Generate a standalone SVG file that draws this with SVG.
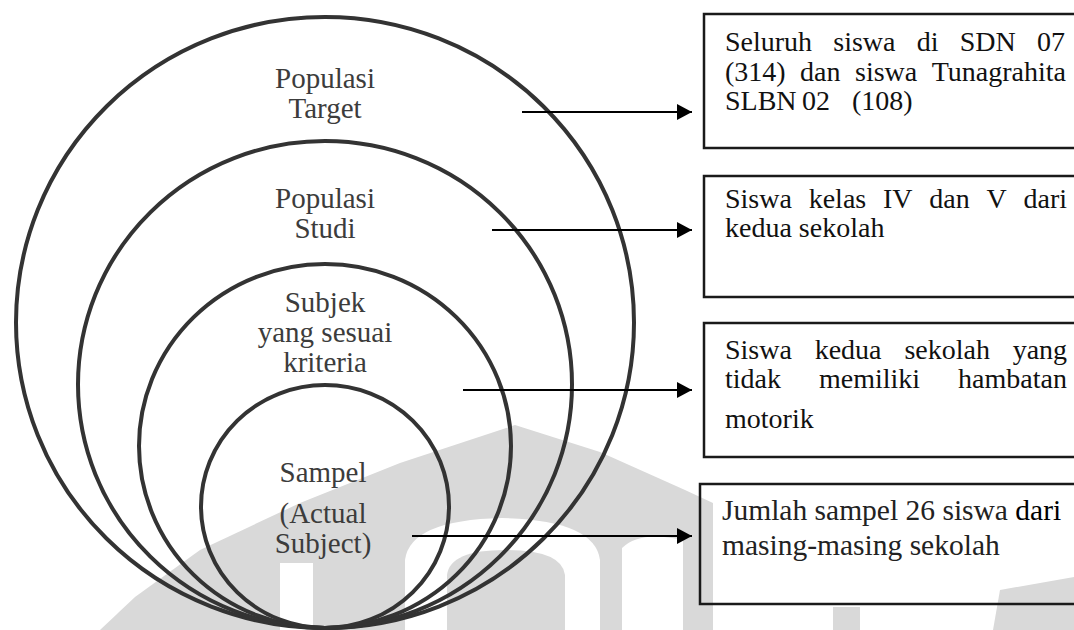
<svg xmlns="http://www.w3.org/2000/svg" width="1074" height="630" viewBox="0 0 1074 630">
<style>
.ring{fill:none;stroke:#333;stroke-width:4}
.lbl{font-family:"Liberation Serif","Times New Roman",serif;font-size:29px;fill:#3c3c3c;text-anchor:middle}
.box{fill:none;stroke:#1a1a1a;stroke-width:2.5}
.bt{font-family:"Liberation Serif","Times New Roman",serif;font-size:28px;fill:#111}
.bt4{font-family:"Liberation Serif","Times New Roman",serif;font-size:29.5px;fill:#222}
.arr{stroke:#000;stroke-width:2;fill:none}
.wm{fill:#d9d9d9;stroke:none}
.wmw{fill:#fff;stroke:none}
</style>
<defs>
<marker id="ah" viewBox="0 0 15 16" refX="15" refY="8" markerWidth="15" markerHeight="16" markerUnits="userSpaceOnUse" orient="auto">
<path d="M0,0 L15,8 L0,16 Z" fill="#000"/>
</marker>
</defs>
<rect width="1074" height="630" fill="#fff"/>
<g id="watermark">
<polygon class="wm" points="100,630 135,597 200,550 300,503 400,463 515,425 600,452 685,490 713,503 713,630"/>
<rect class="wmw" x="280" y="563" width="33" height="67"/>
<path class="wmw" d="M405,630 L405,560 Q410,520 502,518 Q595,520 600,560 L600,630 Z"/>
<path class="wm" d="M447,630 L447,575 Q450,550 505,550 Q562,550 565,575 L565,630 Z"/>
<path class="wmw" d="M622,630 L622,548 Q640,530 683,540 L683,630 Z"/>
<rect class="wm" x="833" y="607" width="27" height="23"/>
<polygon class="wm" points="993,630 1000,590 1074,577 1074,630"/>
</g>
<g id="rings">
<ellipse class="ring" cx="325" cy="322.5" rx="309" ry="305.5"/>
<ellipse class="ring" cx="325" cy="384.5" rx="247" ry="243.5"/>
<ellipse class="ring" cx="325" cy="446" rx="186" ry="182"/>
<ellipse class="ring" cx="325" cy="506.5" rx="124" ry="121.5"/>
</g>
<g id="ring-labels">
<text class="lbl" x="325" y="88">Populasi</text>
<text class="lbl" x="325" y="118">Target</text>
<text class="lbl" x="325" y="208">Populasi</text>
<text class="lbl" x="325" y="238">Studi</text>
<text class="lbl" x="325" y="312">Subjek</text>
<text class="lbl" x="325" y="342">yang sesuai</text>
<text class="lbl" x="325" y="372">kriteria</text>
<text class="lbl" x="323" y="482">Sampel</text>
<text class="lbl" x="323" y="523">(Actual</text>
<text class="lbl" x="323" y="553">Subject)</text>
</g>
<g id="connectors">
<line class="arr" x1="522" y1="112" x2="692" y2="112" marker-end="url(#ah)"/>
<line class="arr" x1="492" y1="230" x2="692" y2="230" marker-end="url(#ah)"/>
<line class="arr" x1="463" y1="390" x2="692" y2="390" marker-end="url(#ah)"/>
<line class="arr" x1="412" y1="536" x2="692" y2="536" marker-end="url(#ah)"/>
</g>
<g id="box1">
<rect class="box" x="704" y="14" width="390" height="134"/>
<text class="bt" y="51"><tspan x="725">Seluruh</tspan><tspan x="833.3">siswa</tspan><tspan x="916.7">di</tspan><tspan x="959.7">SDN</tspan><tspan x="1036.9">07</tspan></text>
<text class="bt" y="81"><tspan x="725">(314)</tspan><tspan x="800.1">dan</tspan><tspan x="855">siswa</tspan><tspan x="931.7">Tunagrahita</tspan></text>
<text class="bt" y="110"><tspan x="725">SLBN</tspan><tspan x="802">02</tspan><tspan x="852">(108)</tspan></text>
</g>
<g id="box2">
<rect class="box" x="704" y="176" width="390" height="121"/>
<text class="bt" y="208"><tspan x="725">Siswa</tspan><tspan x="808.7">kelas</tspan><tspan x="883">IV</tspan><tspan x="929.3">dan</tspan><tspan x="986.5">V</tspan><tspan x="1023.5">dari</tspan></text>
<text class="bt" x="725" y="237">kedua sekolah</text>
</g>
<g id="box3">
<rect class="box" x="704" y="323" width="390" height="134"/>
<text class="bt" y="359"><tspan x="725">Siswa</tspan><tspan x="814.7">kedua</tspan><tspan x="904.4">sekolah</tspan><tspan x="1012.7">yang</tspan></text>
<text class="bt" y="388"><tspan x="725">tidak</tspan><tspan x="819">memiliki</tspan><tspan x="958.1">hambatan</tspan></text>
<text class="bt" x="725" y="428">motorik</text>
</g>
<g id="box4">
<rect class="box" x="700" y="484" width="394" height="120"/>
<text class="bt4" x="722" y="520">Jumlah sampel 26 siswa <tspan fill="#000">dari</tspan></text>
<text class="bt4" x="722" y="555">masing-masing sekolah</text>
</g>
</svg>
